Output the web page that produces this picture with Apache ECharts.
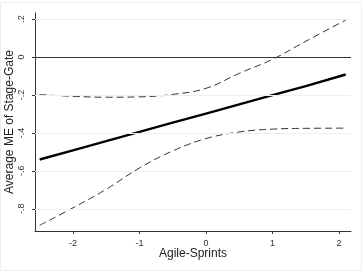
<!DOCTYPE html>
<html>
<head>
<meta charset="utf-8">
<script src="https://cdn.jsdelivr.net/npm/echarts@6/dist/echarts.min.js"></script>
<style>
  html, body { margin: 0; padding: 0; background: #fff; }
  #chart-container { width: 364px; height: 272px; }
</style>
</head>
<body>
<div id="chart-container"></div>
<script>
// values
let agileSprints = [-2.5, -2, -1.5, -1, -0.5, 0, 0.5, 1, 1.5, 2.1];
let averageME = [-0.54, -0.492, -0.443, -0.395, -0.346, -0.298, -0.25, -0.201, -0.153, -0.092];
let upperCI = [-0.198, -0.207, -0.212, -0.21, -0.197, -0.165, -0.086, -0.012, 0.083, 0.195];
let lowerCI = [-0.887, -0.795, -0.697, -0.585, -0.495, -0.43, -0.395, -0.38, -0.376, -0.375];
let xTicks = [-2, -1, 0, 1, 2];
let yTicks = [-0.8, -0.6, -0.4, -0.2, 0, 0.2];

function init() {
  let pairs = (ys) => agileSprints.map((x, i) => [x, ys[i]]);
  // stata style: .2 / -.4
  let fmt = (v) => {
    let s = String(Math.round(v * 10) / 10);
    return s.replace(/^(-?)0\./, '$1.');
  };

  function ciSeries(name, data) {
    return {
      name,
      type: 'line',
      symbol: 'none',
      smooth: 0.4,
      z: 3,
      lineStyle: {
        color: '#333',
        width: 1,
        type: [7, 4]
      },
      data
    };
  }

  let mainSeries = {
    name: 'ME',
    type: 'line',
    symbol: 'none',
    z: 4,
    lineStyle: {
      color: '#000',
      width: 2.4
    },
    data: pairs(averageME),
    markLine: {
      silent: true,
      symbol: 'none',
      label: { show: false },
      data: yTicks.filter(v => v !== 0).map(v => ({
        yAxis: v,
        lineStyle: { color: '#eeeeee', width: 1, type: 'solid' }
      })).concat([{
        yAxis: 0,
        lineStyle: { color: '#333', width: 1, type: 'solid' }
      }])
    }
  };

  let font = 'Liberation Sans, Arial, sans-serif';

  let option = {
    animation: false,
    backgroundColor: '#fff',
    grid: {
      left: 35,
      right: 13,
      top: 13,
      bottom: 41,
      outerBoundsMode: 'none'
    },
    xAxis: {
      type: 'value',
      min: -2.57,
      max: 2.18,
      name: 'Agile-Sprints',
      nameLocation: 'middle',
      nameGap: 17,
      nameMoveOverlap: false,
      nameTextStyle: { fontFamily: font, fontSize: 12, color: '#222' },
      axisLine: { onZero: false, lineStyle: { color: '#333', width: 1 } },
      axisTick: { customValues: xTicks, length: 3, lineStyle: { color: '#333' } },
      axisLabel: {
        customValues: xTicks,
        formatter: (v) => String(v),
        fontFamily: font,
        fontSize: 9,
        color: '#333',
        margin: 8
      },
      splitLine: { show: false }
    },
    yAxis: {
      type: 'value',
      min: -0.917,
      max: 0.232,
      name: 'Average ME of Stage-Gate',
      nameLocation: 'middle',
      nameGap: 19,
      nameMoveOverlap: false,
      nameTextStyle: { fontFamily: font, fontSize: 12, color: '#222' },
      axisLine: { show: true, onZero: false, lineStyle: { color: '#333', width: 1 } },
      axisTick: { show: true, customValues: yTicks, length: 3, lineStyle: { color: '#333' } },
      axisLabel: {
        customValues: yTicks,
        formatter: fmt,
        rotate: 90,
        fontFamily: font,
        fontSize: 9,
        color: '#333',
        margin: 9
      },
      splitLine: { show: false }
    },
    series: [
      ciSeries('Upper', pairs(upperCI)),
      ciSeries('Lower', pairs(lowerCI)),
      mainSeries
    ],
    graphic: [{
      type: 'rect',
      shape: { x: 0.5, y: 2.5, width: 361, height: 268 },
      style: { fill: null, stroke: '#eeeeee', lineWidth: 1 },
      silent: true,
      z: -1
    }]
  };

  var myChart = echarts.init(document.getElementById('chart-container'));
  myChart.setOption(option);
  window.addEventListener('resize', myChart.resize);
}
init();
</script>
</body>
</html>
